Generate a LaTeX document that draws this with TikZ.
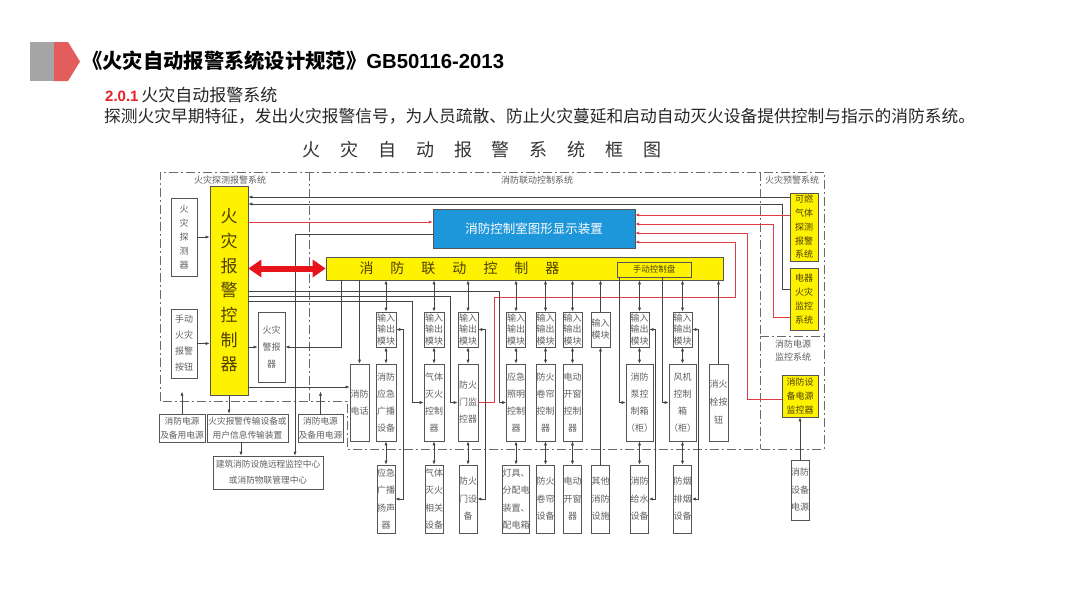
\documentclass[tikz,border=0pt]{standalone}
\usepackage{fontspec}
\setmainfont{Liberation Sans}
\newfontfamily\cjk{Noto Sans CJK SC}
\usetikzlibrary{arrows.meta,calc}
\definecolor{hdgray}{HTML}{A6A6A6}
\definecolor{hdred}{HTML}{E35D5D}
\definecolor{secred}{HTML}{E8202A}
\definecolor{firered}{HTML}{E8141C}
\definecolor{redline}{HTML}{DE3C46}
\definecolor{fireyellow}{HTML}{FFF200}
\definecolor{dispblue}{HTML}{1E96DA}
\definecolor{boxgray}{HTML}{555555}
\definecolor{txtgray}{HTML}{606060}
\definecolor{ctltext}{HTML}{4D4000}
\definecolor{linegray}{HTML}{444444}
\definecolor{framegray}{HTML}{6A6A6A}

\begin{document}
\begin{tikzpicture}[x=1pt,y=-1pt,
  bx/.style={draw=boxgray,line width=0.7pt,inner sep=0pt,align=center,
             text=txtgray,font=\cjk\fontsize{9}{#1}\selectfont},
  bx/.default=11,
  sb/.style={bx,font=\cjk\fontsize{8.7}{14}\selectfont},
  ybx/.style={bx=#1,fill=fireyellow,text=ctltext},
  ybx/.default=13.5,
  sz/.style 2 args={minimum width=#1pt,minimum height=#2pt},
  lbl/.style={font=\cjk\fontsize{9}{13}\selectfont,text=txtgray,align=center,inner sep=0pt},
  ar/.style={-{Latex[length=4pt,width=3.2pt]},draw=linegray,line width=0.7pt},
  da/.style={{Latex[length=4pt,width=3.2pt]}-{Latex[length=4pt,width=3.2pt]},draw=linegray,line width=0.7pt},
  ra/.style={ar,draw=redline},
  frm/.style={draw=framegray,line width=0.8pt,dash pattern=on 9pt off 3pt on 2pt off 3pt}]
\useasboundingbox (0,0) rectangle (1080,608);
\fill[white] (0,0) rectangle (1080,608);
% header
\fill[hdgray] (30,42) rectangle (55,81);
\fill[hdred] (54,42) -- (68,42) -- (80,61.5) -- (68,81) -- (54,81) -- cycle;
\node[anchor=west,inner sep=0pt,font=\bfseries\fontsize{20.3}{24}\selectfont] (ttl) at (82,61)
  {{\cjk\bfseries 《火灾自动报警系统设计规范》}GB50116-2013};
\node[anchor=west,inner sep=0pt] (sec) at (105,95)
  {{\color{secred}\bfseries\fontsize{15}{18}\selectfont 2.0.1} {\cjk\fontsize{17}{20}\selectfont\color{black!85}火灾自动报警系统}};
\node[anchor=west,inner sep=0pt,font=\cjk\fontsize{16.75}{20}\selectfont,text=black!85] (def) at (104,116)
  {探测火灾早期特征，发出火灾报警信号，为人员疏散、防止火灾蔓延和启动自动灭火设备提供控制与指示的消防系统。};
\node[font=\cjk\fontsize{18}{20}\selectfont,text=black!80] (chart) at (482,150)
  {火\hspace{19.8pt}灾\hspace{19.8pt}自\hspace{19.8pt}动\hspace{19.8pt}报\hspace{19.8pt}警\hspace{19.8pt}系\hspace{19.8pt}统\hspace{19.8pt}框\hspace{19.8pt}图};

% frames
\draw[frm] (160,401) -- (160,172) -- (824,172) -- (824,449) -- (347,449) -- (347,401) -- cycle;
\draw[frm] (309,172) -- (309,401);
\draw[frm] (760,172) -- (760,449);
\draw[frm] (760,336) -- (824,336);
\node[lbl] (lab-a) at (230,180) {火灾探测报警系统};
\node[lbl] (lab-b) at (537,180) {消防联动控制系统};
\node[lbl] (lab-c) at (792,180) {火灾预警系统};
\node[lbl] (lab-d) at (793,351) {消防电源\\监控系统};

% detection part
\node[bx=14,sz={26}{78}] (det) at (184,237) {火\\灾\\探\\测\\器};
\node[bx=16,sz={26}{69}] (btn) at (184,343.5) {手动\\火灾\\报警\\按钮};
\node[ybx,sz={38}{209},font=\cjk\fontsize{17}{24.7}\selectfont] (ctl) at (229,290.5) {火\\灾\\报\\警\\控\\制\\器};
\node[bx=17,sz={27}{70}] (alarm) at (271.5,347) {火灾\\警报\\器};
\node[sb,sz={46}{28}] (pwrA) at (182,428) {消防电源\\及备用电源};
\node[sb,sz={81}{28}] (trans) at (247.5,428) {火灾报警传输设备或\\用户信息传输装置};
\node[sb,sz={45}{28}] (pwrB) at (320.5,428) {消防电源\\及备用电源};
\node[sb,sz={110}{33},font=\cjk\fontsize{8.7}{16}\selectfont] (remote) at (268,472.5) {建筑消防设施远程监控中心\\或消防物联管理中心};

% linkage part
\node[draw=boxgray,fill=dispblue,text=white,inner sep=0pt,sz={202}{39},
      font=\cjk\fontsize{12.5}{15}\selectfont] (disp) at (534,228.5) {消防控制室图形显示装置};
\node[ybx,sz={397}{23}] (link) at (524.5,268.5) {};
\node[font=\cjk\fontsize{14}{16}\selectfont,text=ctltext] (link-t) at (459.5,268.5)
  {消\hspace{17pt}防\hspace{17pt}联\hspace{17pt}动\hspace{17pt}控\hspace{17pt}制\hspace{17pt}器};
\node[ybx,sz={74}{15},font=\cjk\fontsize{8.5}{10}\selectfont] (panel) at (654,269.5) {手动控制盘};

\node[bx=17,sz={19}{77}] (tel) at (359.5,402.5) {消防\\电话};
\node[bx=11.5,sz={20}{35}] (m1) at (386,329.5) {输入\\输出\\模块};
\node[bx=11.5,sz={20}{35}] (m2) at (434,329.5) {输入\\输出\\模块};
\node[bx=11.5,sz={20}{35}] (m3) at (468,329.5) {输入\\输出\\模块};
\node[bx=11.5,sz={19}{35}] (m4) at (516,329.5) {输入\\输出\\模块};
\node[bx=11.5,sz={19}{35}] (m5) at (545.5,329.5) {输入\\输出\\模块};
\node[bx=11.5,sz={19}{35}] (m6) at (572.5,329.5) {输入\\输出\\模块};
\node[bx=12,sz={19}{35}] (m7) at (600.5,329.5) {输入\\模块};
\node[bx=11.5,sz={19}{35}] (m8) at (639.5,329.5) {输入\\输出\\模块};
\node[bx=11.5,sz={19}{35}] (m9) at (682.5,329.5) {输入\\输出\\模块};

\node[bx=17,sz={20}{77}] (c1) at (386,402.5) {消防\\应急\\广播\\设备};
\node[bx=17,sz={20}{77}] (c2) at (434,402.5) {气体\\灭火\\控制\\器};
\node[bx=17,sz={20}{77}] (c3) at (468,402.5) {防火\\门监\\控器};
\node[bx=17,sz={19}{77}] (c4) at (516,402.5) {应急\\照明\\控制\\器};
\node[bx=17,sz={19}{77}] (c5) at (545.5,402.5) {防火\\卷帘\\控制\\器};
\node[bx=17,sz={19}{77}] (c6) at (572.5,402.5) {电动\\开窗\\控制\\器};
\node[bx=17,sz={19}{77}] (c8) at (639.5,402.5) {消防\\泵控\\制箱\\（柜）};
\node[bx=17,sz={19}{77}] (c9) at (682.5,402.5) {风机\\控制\\箱\\（柜）};
\node[bx=18,sz={19}{77}] (hyd) at (718.5,402.5) {消火\\栓按\\钮};

\node[bx=17.5,sz={18}{68}] (d1) at (386,499) {应急\\广播\\扬声\\器};
\node[bx=17.5,sz={18}{68}] (d2) at (434,499) {气体\\灭火\\相关\\设备};
\node[bx=17.5,sz={18}{68}] (d3) at (468,499) {防火\\门设\\备};
\node[bx=17.5,sz={27}{68}] (d4) at (516,499) {灯具、\\分配电\\装置、\\配电箱};
\node[bx=17.5,sz={18}{68}] (d5) at (545.5,499) {防火\\卷帘\\设备};
\node[bx=17.5,sz={18}{68}] (d6) at (572.5,499) {电动\\开窗\\器};
\node[bx=17.5,sz={18}{68}] (d7) at (600.5,499) {其他\\消防\\设施};
\node[bx=17.5,sz={18}{68}] (d8) at (639.5,499) {消防\\给水\\设备};
\node[bx=17.5,sz={18}{68}] (d9) at (682.5,499) {防烟\\排烟\\设备};

% warning and power monitoring part
\node[ybx=13.75,sz={28}{68}] (gas) at (804,227) {可燃\\气体\\探测\\报警\\系统};
\node[ybx=14,sz={28}{62}] (elec) at (804,299) {电器\\火灾\\监控\\系统};
\node[ybx=14,sz={36}{42}] (pmon) at (800,396) {消防设\\备电源\\监控器};
\node[bx=17.5,sz={18}{60}] (psrc) at (800,490) {消防\\设备\\电源};

% connectors, detection part
\draw[ar] (det) -- (det -| ctl.west);
\draw[ar] (btn) -- (btn -| ctl.west);
\draw[ar] (alarm -| ctl.east) -- (alarm);
\draw[ar] ([xshift=16pt]link.south west) |- (alarm.east);
\coordinate (tp) at ([yshift=15.5pt]tel.west);
\draw[ar] (ctl.east |- tp) -- (tp);
\draw[ar] (tel.north |- link.south) -- (tel.north);
\draw[ar] ([yshift=-5.5pt]disp.west) -| ([xshift=27pt]remote.north);
\draw[ar] (ctl.south) -- (ctl.south |- trans.north);
\draw[ar] ([xshift=-6.5pt]trans.south) -- ([xshift=-6.5pt]trans.south |- remote.north);
\draw[ar] (pwrA.north) -- ++(0,-22);
\draw[ar] (pwrB.north) -- ++(0,-22);

% connectors, warning part
\draw[ar] ([yshift=30pt]gas.west) -- ([yshift=30pt]gas.west -| ctl.east);
\draw[ar] ([yshift=10pt]elec.west) -- ++(-7,0) |- ([yshift=86.5pt]ctl.east);
\draw[ra] ([yshift=68.5pt]ctl.east) -- ([yshift=68.5pt]ctl.east -| disp.west);
\draw[ra] ([yshift=12pt]gas.west) -- ([yshift=12pt]gas.west -| disp.east);
\draw[ra] ([yshift=-18pt]elec.west) -- ++(-16,0) |- ([yshift=4.5pt]disp.east);
\draw[ra] ([yshift=-3pt]pmon.west) -- ++(-34,0) |- ([yshift=-4.5pt]disp.east);
\draw[ra] (c3.east) -- ++(16,0) |- ++(241,-105) |- ([yshift=-13.5pt]disp.east);
\draw[ar] (psrc) -- (pmon);

% connectors, linkage part
\draw[ar] ([yshift=-10.5pt]ctl.east) -- ++(164,0) |- (c2.west);
\draw[ar] ([yshift=-5.5pt]ctl.east) -- ++(202,0) |- (c3.west);
\draw[ar] ([yshift=-0.5pt]ctl.east) -- ++(251,0) |- (c4.west);
\foreach \i in {1,2,3,4,5,6,8,9} {
  \draw[da] (m\i.north |- link.south) -- (m\i.north);
  \draw[da] (m\i) -- (c\i);
  \draw[da] (c\i) -- (d\i);
}
\foreach \i/\d in {1/7,3/7,8/6,9/6}
  \draw[da] (m\i.east) -- ++(\d,0) |- (d\i.east);
\draw[ar] (d7) -- (m7);
\draw[ar] (m7.north) -- (m7.north |- link.south);
\draw[ar] (hyd.north) -- (hyd.north |- link.south);
\draw[ar] ([xshift=-35pt]panel.south) |- (c8.west);
\draw[ar] ([xshift=8pt]panel.south) |- (c9.west);
\draw[{Triangle[length=13pt,width=17pt]}-{Triangle[length=13pt,width=17pt]},line width=6pt,firered]
  (ctl.east |- link.west) -- (link.west);
\end{tikzpicture}
\end{document}
